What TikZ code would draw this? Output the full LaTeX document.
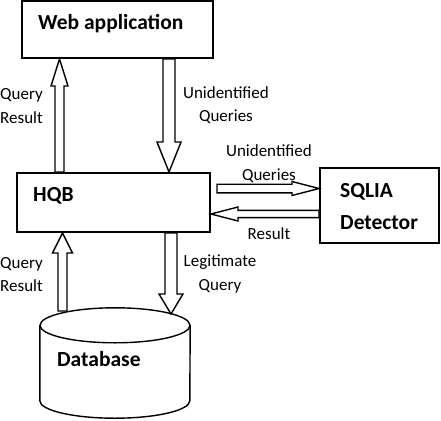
\documentclass[tikz,border=0pt]{standalone}
\usepackage{fontspec}
\setmainfont{Carlito}
\usetikzlibrary{calc, positioning}

% hollow block arrow: from, to, shaft half width, head half width, head length
\newcommand{\blkarrow}[5]{%
  \draw[blk] let \p1=(#1), \p2=(#2),
    \n1={veclen(\x2-\x1,\y2-\y1)}, \n2={atan2(\y2-\y1,\x2-\x1)} in
    [shift={(\p1)}, rotate=\n2]
    (0pt,#3) -- ({\n1*1pt-#5},#3) -- ({\n1*1pt-#5},#4) -- ({\n1*1pt},0pt)
    -- ({\n1*1pt-#5},-#4) -- ({\n1*1pt-#5},-#3) -- (0pt,-#3) -- cycle;}

\begin{document}
\begin{tikzpicture}[
    x=1pt, y=-1pt,
    box/.style={draw, line width=2pt, inner sep=0pt},
    ttl/.style={font=\fontsize{21.5}{32}\selectfont\bfseries, inner sep=0pt, align=left},
    lbl/.style={font=\fontsize{17}{23.5}\selectfont, inner sep=0pt, align=center},
    blk/.style={draw, fill=white, line width=1.4pt, line join=miter},
    cyl/.style={draw, line width=1.4pt},
]
\useasboundingbox (0,0) rectangle (441,420);

% Boxes
\node[box, minimum width=191pt, minimum height=57pt] (web) at (117.5,29.5) {};
\node[box, minimum width=193pt, minimum height=59pt] (hqb) at (113.5,202.5) {};
\node[box, minimum width=119pt, minimum height=75pt] (det) at (379.5,205.5) {};
\node[minimum width=150pt, minimum height=110pt, inner sep=0pt] (db) at (115,363) {};

% Database cylinder
\draw[cyl] ([yshift=-17.5pt]db.north west) -- ([yshift=17.5pt]db.south west)
  arc[start angle=180, end angle=360, x radius=75pt, y radius=17.5pt]
  -- ([yshift=-17.5pt]db.north east);
\draw[cyl] ([yshift=-17.5pt]db.north) ellipse[x radius=75pt, y radius=17.5pt];

% Box titles
\node[ttl, anchor=base west] (webt) at (38,29.3) {Web application};
\node[ttl, anchor=base west] (hqbt) at (33,201.7) {HQB};
\node[ttl, anchor=base west] (dett) at (340,229) {SQLIA\\Detector};
\node[ttl, anchor=base west] (dbt) at (57,366) {Database};

% Connector ends
\coordinate (c1) at ([xshift=43.5pt]hqb.north west);
\coordinate (c2) at ([xshift=148pt]web.south west);
\coordinate (c3) at (217,188.5);
\coordinate (c4) at (det.west |- 0,214);
\coordinate (c5) at (62.5,311);
\coordinate (c6) at (hqb.south -| 171,0);
\coordinate (c6e) at (171,314);

% Arrows
\blkarrow{c1}{c1 |- web.south}{4.5pt}{8.5pt}{27pt}
\blkarrow{c2}{c2 |- hqb.north}{6pt}{12pt}{30pt}
\blkarrow{c3}{c3 -| det.west}{4.3pt}{7pt}{27pt}
\blkarrow{c4}{c4 -| hqb.east}{3.6pt}{7pt}{27pt}
\blkarrow{c5}{c5 |- hqb.south}{4.5pt}{10pt}{20pt}
\blkarrow{c6}{c6e}{6pt}{12pt}{20pt}

% Labels
\node[lbl, align=left, anchor=base west] (qr1) at (0,123.3) {Query\\Result};
\node[lbl, anchor=base] (uq1) at (226,121.7) {Unidentified\\Queries};
\node[lbl, anchor=base] (uq2) at (269,180) {Unidentified\\Queries};
\node[lbl, anchor=base] (res) at (269,239) {Result};
\node[lbl, align=left, anchor=base west] (qr2) at (0,291.7) {Query\\Result};
\node[lbl, anchor=base] (lq) at (220,290) {Legitimate\\Query};

\end{tikzpicture}
\end{document}
